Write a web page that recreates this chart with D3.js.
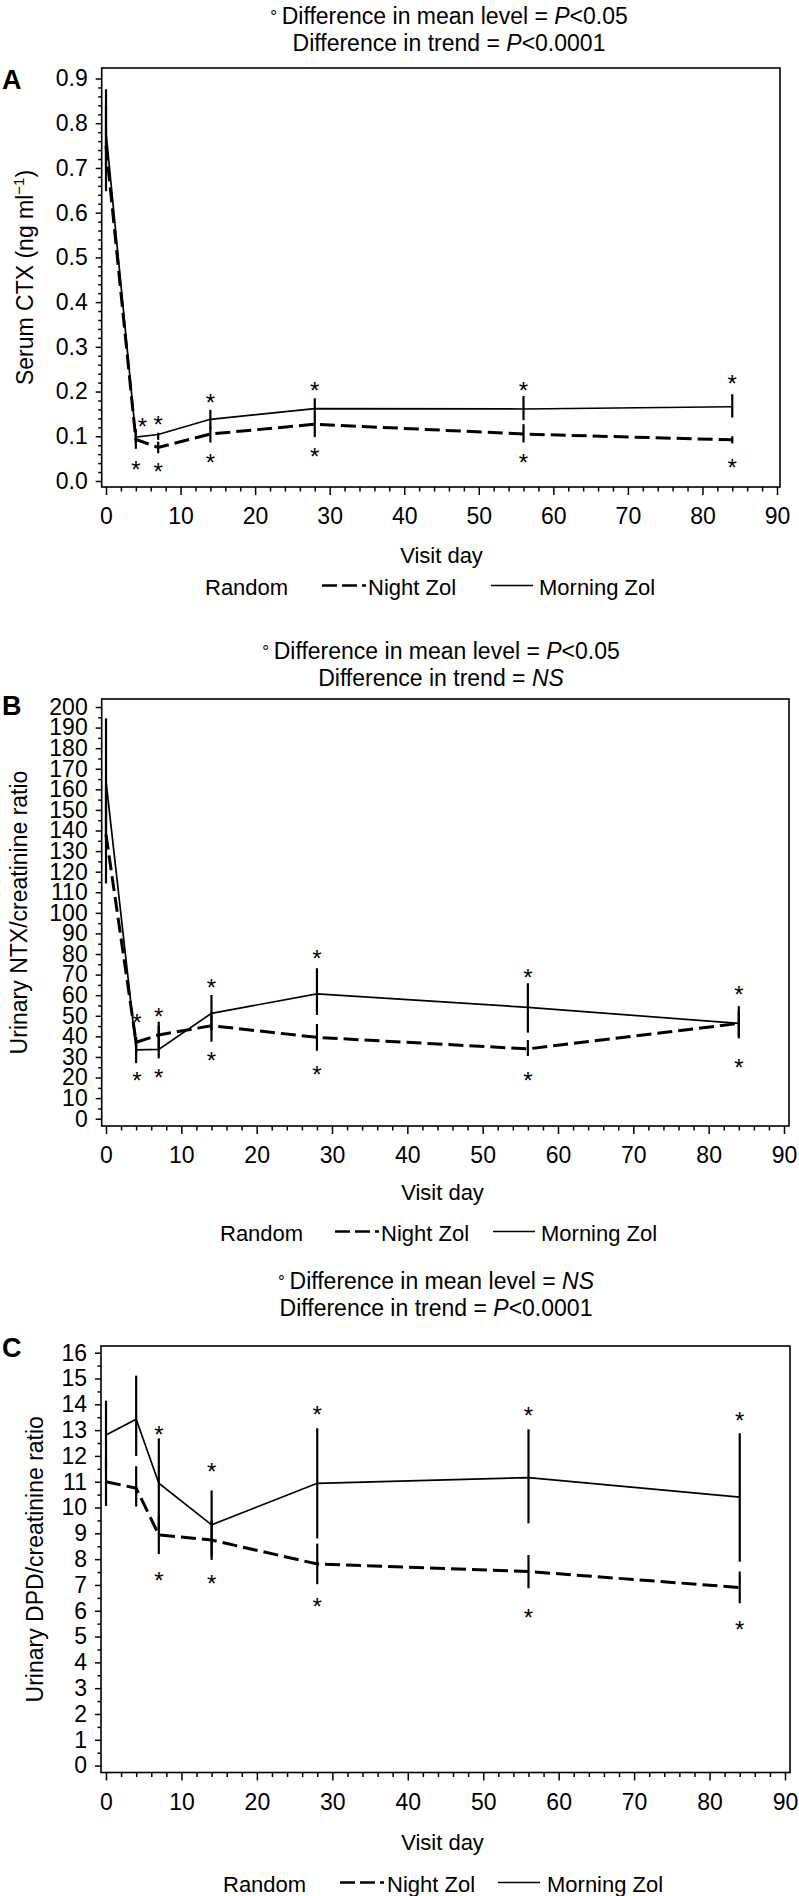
<!DOCTYPE html>
<html><head><meta charset="utf-8">
<script src="https://cdn.jsdelivr.net/npm/d3@7"></script>
<style>
body{margin:0;background:#fff;}
svg{display:block;}
</style></head><body>
<svg id="chart" width="799" height="1896"></svg>
<script>
// ---------- DATA ----------
const days = [0, 4, 7, 14, 28, 56, 84];
const xTicks = [0, 10, 20, 30, 40, 50, 60, 70, 80, 90];
const legendLabels = ["Random", "Night Zol", "Morning Zol"];
const xAxisTitle = "Visit day";

// Panel A: Serum CTX
const ctxMorning   = [0.78, 0.098, 0.104, 0.138, 0.162, 0.161, 0.166];
const ctxMorningLo = [0.70, 0.086, 0.092, 0.118, 0.142, 0.136, 0.142];
const ctxMorningHi = [0.876, 0.116, 0.108, 0.159, 0.185, 0.190, 0.194];
const ctxNight     = [0.75, 0.093, 0.075, 0.105, 0.127, 0.105, 0.092];
const ctxNightLo   = [0.648, 0.072, 0.062, 0.086, 0.098, 0.086, 0.084];
const ctxNightHi   = [0.84, 0.104, 0.088, 0.122, 0.145, 0.127, 0.100];
const ctxStarUpDays = [4.9, 7, 14, 28, 56, 84];
const ctxStarUpVals = [0.133, 0.138, 0.187, 0.215, 0.215, 0.230];
const ctxStarDnDays = [4, 7, 14, 28, 56, 84];
const ctxStarDnVals = [0.038, 0.034, 0.054, 0.068, 0.053, 0.042];
const ctxTicks = [0, 0.1, 0.2, 0.3, 0.4, 0.5, 0.6, 0.7, 0.8, 0.9];

// Panel B: Urinary NTX/creatinine
const ntxMorning   = [164, 33.4, 33.7, 51.2, 60.6, 54.1, 46.3];
const ntxMorningLo = [135, 27, 29.3, 43, 50.4, 41.8, 39];
const ntxMorningHi = [194.5, 39.8, 47.1, 60.1, 73.1, 65.8, 54.7];
const ntxNight     = [138, 37.1, 40.7, 45.2, 39.5, 33.9, 46.3];
const ntxNightLo   = [114.3, 32, 34, 37.4, 33, 30.5, 40];
const ntxNightHi   = [160, 39, 45, 52, 46, 38.2, 52];
const ntxStarUpDays = [4.1, 7, 14, 28, 56, 84];
const ntxStarUpVals = [49.3, 52.3, 66.6, 80.6, 71.4, 62.9];
const ntxStarDnDays = [4.1, 7, 14, 28, 56, 84];
const ntxStarDnVals = [21.2, 22.8, 30.9, 24, 21.2, 27.4];
const ntxTicks = [0,10,20,30,40,50,60,70,80,90,100,110,120,130,140,150,160,170,180,190,200];

// Panel C: Urinary DPD/creatinine
const dpdMorning   = [12.81, 13.42, 10.94, 9.33, 10.94, 11.16, 10.4];
const dpdMorningLo = [11.5, 12.0, 9.2, 8.1, 8.8, 9.39, 7.9];
const dpdMorningHi = [14.14, 15.11, 12.68, 10.66, 13.07, 13.03, 12.88];
const dpdNight     = [11.0, 10.75, 8.94, 8.74, 7.81, 7.52, 6.9];
const dpdNightLo   = [10.06, 10.04, 8.2, 7.97, 7.03, 6.87, 6.29];
const dpdNightHi   = [11.9, 11.6, 9.7, 9.5, 8.6, 8.16, 7.52];
const dpdStarUpDays = [7, 14, 28, 56, 84];
const dpdStarUpVals = [13.03, 11.59, 13.81, 13.76, 13.59];
const dpdStarDnDays = [7, 14, 28, 56, 84];
const dpdStarDnVals = [7.39, 7.26, 6.38, 5.94, 5.48];
const dpdTicks = [0,1,2,3,4,5,6,7,8,9,10,11,12,13,14,15,16];

// Titles (text runs: [text, italic])
const titlesA = [[["Difference in mean level = ",0],["P",1],["<0.05",0]], [["Difference in trend = ",0],["P",1],["<0.0001",0]]];
const titlesB = [[["Difference in mean level = ",0],["P",1],["<0.05",0]], [["Difference in trend = ",0],["NS",1]]];
const titlesC = [[["Difference in mean level = ",0],["NS",1]], [["Difference in trend = ",0],["P",1],["<0.0001",0]]];

// ---------- LAYOUT ----------
const FONT = '"Liberation Sans", Arial, Helvetica, sans-serif';
const FS = 22;      // legend / axis title
const FS_T = 23;    // titles
const FS_TICK = 23; // tick labels
const svg = d3.select("#chart");

const panels = [
  { letter:"A", ticks:ctxTicks, fmt:d3.format(".1f"), minorStep:0.02,
    yTitle:[["Serum CTX (ng ml",0],["\u22121",2],[")",0]],
    m:[ctxMorning, ctxMorningLo, ctxMorningHi], n:[ctxNight, ctxNightLo, ctxNightHi],
    su:[ctxStarUpDays, ctxStarUpVals], sd:[ctxStarDnDays, ctxStarDnVals], titles:titlesA,
    L:{left:101.7, right:780, top:68, bottom:487, x0:106, x90:777, y0:481, yT:78.5,
       titleX:449, t1:24, t2:51, letterY:89, yTitleX:32.7, visitX:441.5, visitY:563, legY:595,
       leg:[205, 322, 368, 491, 539]} },
  { letter:"B", ticks:ntxTicks, fmt:d3.format("d"), minorStep:5,
    yTitle:[["Urinary NTX/creatinine ratio",0]],
    m:[ntxMorning, ntxMorningLo, ntxMorningHi], n:[ntxNight, ntxNightLo, ntxNightHi],
    su:[ntxStarUpDays, ntxStarUpVals], sd:[ntxStarDnDays, ntxStarDnVals], titles:titlesB,
    L:{left:101.7, right:789, top:699, bottom:1126, x0:106, x90:784, y0:1118.7, yT:707,
       titleX:441, t1:659, t2:686, letterY:715, yTitleX:26.7, visitX:442.5, visitY:1200, legY:1241,
       leg:[220, 335, 381, 493, 541]} },
  { letter:"C", ticks:dpdTicks, fmt:d3.format("d"), minorStep:0.5,
    yTitle:[["Urinary DPD/creatinine ratio",0]],
    m:[dpdMorning, dpdMorningLo, dpdMorningHi], n:[dpdNight, dpdNightLo, dpdNightHi],
    su:[dpdStarUpDays, dpdStarUpVals], sd:[dpdStarDnDays, dpdStarDnVals], titles:titlesC,
    L:{left:101, right:790, top:1346, bottom:1772.5, x0:106, x90:785, y0:1765.6, yT:1352.7,
       titleX:436, t1:1289, t2:1316, letterY:1357, yTitleX:43.3, visitX:442.5, visitY:1850, legY:1892,
       leg:[223, 340, 387, 498, 547]} }
];

function addRuns(textSel, runs, size) {
  runs.forEach(([t, style]) => {
    const ts = textSel.append("tspan").text(t);
    if (style === 1) ts.attr("font-style", "italic");
    if (style === 2) ts.attr("font-size", size * 0.65).attr("dy", -size * 0.38);
    if (style === 0 && runs.some(r => r[1] === 2) && t === ")") ts.attr("dy", size * 0.38);
  });
}

function drawPanel(p) {
  const L = p.L;
  const yTop = p.ticks[p.ticks.length - 1];
  const x = d3.scaleLinear().domain([0, 90]).range([L.x0, L.x90]);
  const y = d3.scaleLinear().domain([0, yTop]).range([L.y0, L.yT]);
  const g = svg.append("g").attr("font-family", FONT);

  // titles
  p.titles.forEach((runs, i) => {
    const t = g.append("text").attr("x", L.titleX).attr("y", i === 0 ? L.t1 : L.t2)
      .attr("text-anchor", "middle").attr("font-size", FS_T);
    if (i === 0) t.append("tspan").attr("font-size", 17).attr("dy", -2).text("\u00B0 ");
    const first = t.append("tspan");
    if (i === 0) first.attr("dy", 2);
    first.attr("font-size", FS_T).text(runs[0][0]);
    addRuns(t, runs.slice(1), FS_T);
  });

  // panel letter
  g.append("text").attr("x", 2).attr("y", L.letterY).attr("font-size", 27)
    .attr("font-weight", "bold").text(p.letter);

  // frame
  g.append("rect").attr("x", L.left).attr("y", L.top)
    .attr("width", L.right - L.left).attr("height", L.bottom - L.top)
    .attr("fill", "none").attr("stroke", "#000").attr("stroke-width", 1.6);

  // y axis
  const yMaj = g.append("g").attr("transform", `translate(${L.left},0)`)
    .call(d3.axisLeft(y).tickValues(p.ticks).tickSize(6).tickPadding(8).tickFormat(p.fmt));
  const nMinor = Math.round(yTop / p.minorStep);
  const yMinorVals = d3.range(0, nMinor + 1).map(i => i * p.minorStep)
    .filter(v => !p.ticks.some(t => Math.abs(t - v) < 1e-9));
  const yMin = g.append("g").attr("transform", `translate(${L.left},0)`)
    .call(d3.axisLeft(y).tickValues(yMinorVals).tickSize(3.5).tickFormat(""));

  // x axis
  const xMaj = g.append("g").attr("transform", `translate(0,${L.bottom})`)
    .call(d3.axisBottom(x).tickValues(xTicks).tickSize(8).tickPadding(13).tickFormat(d3.format("d")));
  const xMinorVals = d3.range(0, 91, 2).filter(v => v % 10 !== 0);
  const xMin = g.append("g").attr("transform", `translate(0,${L.bottom})`)
    .call(d3.axisBottom(x).tickValues(xMinorVals).tickSize(4.5).tickFormat(""));

  [yMaj, yMin, xMaj, xMin].forEach(a => {
    a.select(".domain").remove();
    a.attr("font-family", FONT).attr("font-size", FS_TICK);
    a.selectAll("line").attr("stroke-width", 1.5);
  });

  // y title
  const ycen = (L.top + L.bottom) / 2;
  const yt = g.append("text").attr("transform", `translate(${L.yTitleX},${ycen}) rotate(-90)`)
    .attr("text-anchor", "middle").attr("font-size", 23);
  addRuns(yt, p.yTitle, 23);

  // x title
  g.append("text").attr("x", L.visitX).attr("y", L.visitY).attr("text-anchor", "middle")
    .attr("font-size", FS).text(xAxisTitle);

  // error bars
  const bars = g.append("g").attr("stroke", "#000").attr("stroke-width", 2.2);
  [p.m, p.n].forEach(series => {
    days.forEach((d, i) => {
      bars.append("line").attr("x1", x(d)).attr("x2", x(d))
        .attr("y1", y(series[1][i])).attr("y2", y(series[2][i]));
    });
  });

  // lines
  const line = d3.line().x(d => x(d[0])).y(d => y(d[1]));
  g.append("path").datum(days.map((d, i) => [d, p.n[0][i]])).attr("d", line)
    .attr("fill", "none").attr("stroke", "#000").attr("stroke-width", 3)
    .attr("stroke-dasharray", "15,6");
  g.append("path").datum(days.map((d, i) => [d, p.m[0][i]])).attr("d", line)
    .attr("fill", "none").attr("stroke", "#000").attr("stroke-width", 1.7);

  // asterisks
  [p.su, p.sd].forEach(st => {
    st[0].forEach((d, i) => {
      g.append("text").attr("x", x(d)).attr("y", y(st[1][i])).attr("dy", "0.58em")
        .attr("text-anchor", "middle").attr("font-size", 24).text("*");
    });
  });

  // legend
  const lg = L.leg, ly = L.legY;
  g.append("text").attr("x", lg[0]).attr("y", ly).attr("font-size", FS).text(legendLabels[0]);
  g.append("line").attr("x1", lg[1]).attr("x2", lg[1] + 44).attr("y1", ly - 9.5).attr("y2", ly - 9.5)
    .attr("stroke", "#000").attr("stroke-width", 2.5).attr("stroke-dasharray", "15,5");
  g.append("text").attr("x", lg[2]).attr("y", ly).attr("font-size", FS).text(legendLabels[1]);
  g.append("line").attr("x1", lg[3]).attr("x2", lg[3] + 42).attr("y1", ly - 9.5).attr("y2", ly - 9.5)
    .attr("stroke", "#000").attr("stroke-width", 1.6);
  g.append("text").attr("x", lg[4]).attr("y", ly).attr("font-size", FS).text(legendLabels[2]);
}

panels.forEach(drawPanel);
</script>
</body></html>
